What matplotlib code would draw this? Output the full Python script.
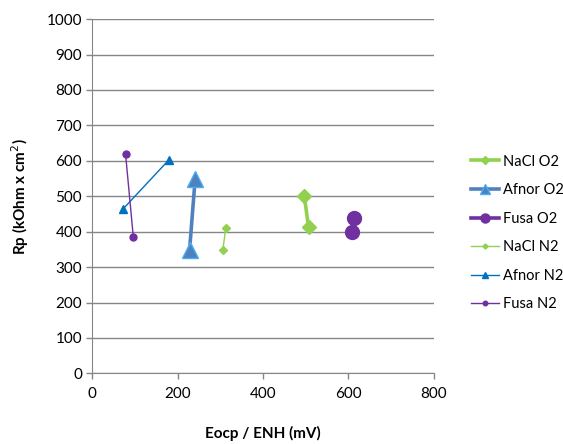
import matplotlib
matplotlib.use("Agg")
import matplotlib.pyplot as plt

plt.rcParams['font.family'] = ['Lato', 'DejaVu Sans']

# series data (Eocp in mV, Rp in kOhm x cm2)
nacl_o2_x = [497, 507]
nacl_o2_y = [501, 412]
afnor_o2_x = [228, 241]
afnor_o2_y = [348, 548]
fusa_o2_x = [610, 614]
fusa_o2_y = [398, 440]
nacl_n2_x = [306, 313]
nacl_n2_y = [348, 411]
afnor_n2_x = [72, 179]
afnor_n2_y = [464, 602]
fusa_n2_x = [78, 96]
fusa_n2_y = [618, 386]

green = "#92D050"
blue = "#4F81BD"
blue2 = "#0070C0"
purple = "#7030A0"

fig = plt.figure(figsize=(5.63, 4.44), dpi=100)
ax = fig.add_axes([0.164, 0.159, 0.606, 0.798])

# O2 series: thick lines, big markers
ax.plot(nacl_o2_x, nacl_o2_y, color=green, lw=2.6, marker="D", ms=7, label="NaCl O2", zorder=3)
ax.plot(afnor_o2_x, afnor_o2_y, color=blue, lw=2.6, marker="^", ms=11, mec="#4BACF6", mew=1,
        label="Afnor O2", zorder=3)
ax.plot(fusa_o2_x, fusa_o2_y, color=purple, lw=2.6, marker="o", ms=10, label="Fusa O2", zorder=3)
# N2 series: thin lines, small markers
ax.plot(nacl_n2_x, nacl_n2_y, color=green, lw=1, marker="D", ms=4, label="NaCl N2", zorder=3)
ax.plot(afnor_n2_x, afnor_n2_y, color=blue2, lw=1, marker="^", ms=6, label="Afnor N2", zorder=3)
ax.plot(fusa_n2_x, fusa_n2_y, color=purple, lw=1, marker="o", ms=5, label="Fusa N2", zorder=3)

# format and style
ax.set_xlim(0, 800)
ax.set_ylim(0, 1000)
ax.set_xticks(range(0, 801, 200))
ax.set_yticks(range(0, 1001, 100))
ax.grid(axis="y", color="#868686", lw=1)
ax.set_axisbelow(True)
for s in ["top", "right"]:
    ax.spines[s].set_visible(False)
ax.spines["left"].set_color("#868686")
ax.spines["bottom"].set_color("#868686")
ax.tick_params(colors="#868686", labelcolor="black", labelsize=11, length=4, width=1)
ax.tick_params(axis="x", pad=6)
ax.set_xlabel("Eocp / ENH (mV)", fontsize=11, fontweight="bold", labelpad=18)
ax.set_ylabel("Rp (kOhm x cm$^2$)", fontsize=11, fontweight="bold", labelpad=11)

ax.legend(loc="upper left", bbox_to_anchor=(0.827, 0.665), bbox_transform=fig.transFigure,
          frameon=False, fontsize=10.5, handlelength=1.9, labelspacing=1.0, borderaxespad=0,
          handletextpad=0.25, markerscale=0.65)

fig.savefig("out.png", dpi=100)
